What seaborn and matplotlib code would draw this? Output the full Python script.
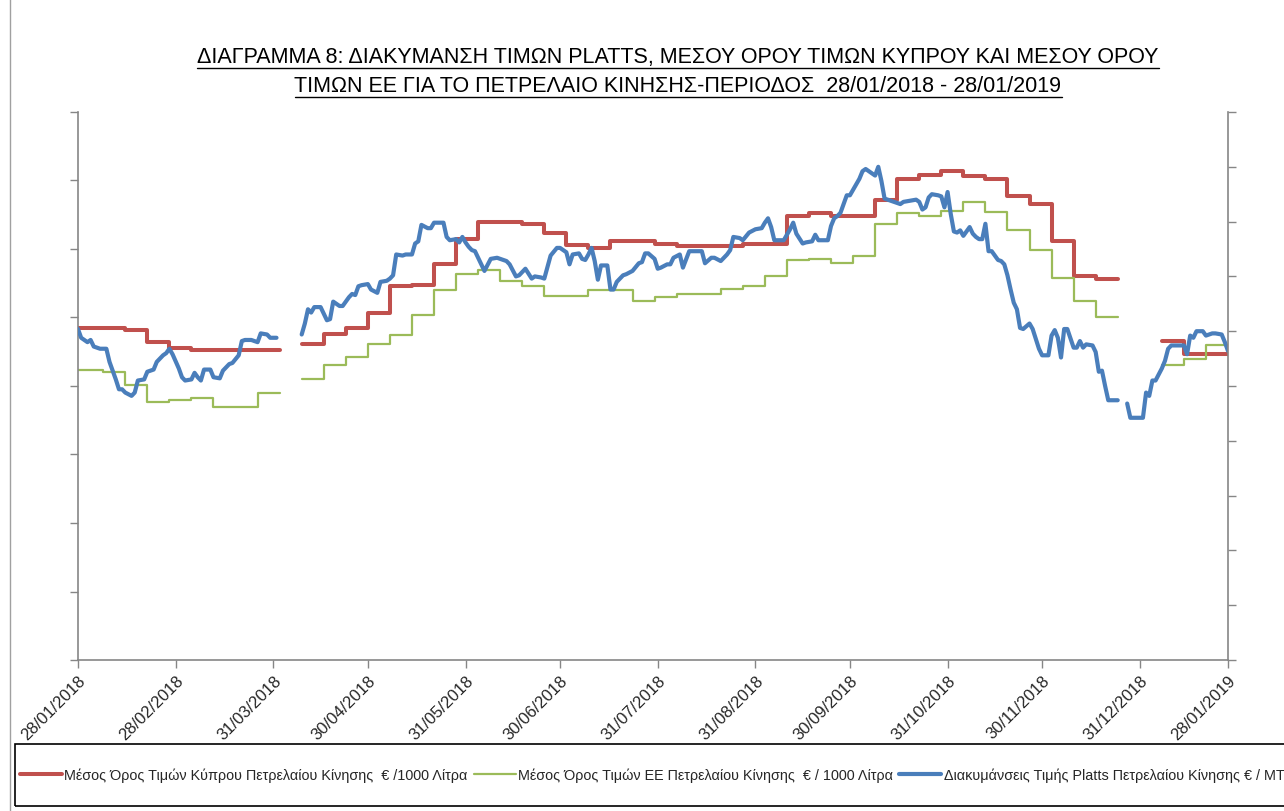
import numpy as np
import pandas as pd
import matplotlib
matplotlib.use("Agg")
import matplotlib.pyplot as plt
import seaborn as sns
from matplotlib.lines import Line2D
from matplotlib.patches import Rectangle

# ---------------- data ----------------
START = "2018-01-28"
END = "2019-01-28"
WEEK_START = "2018-01-29"
nan = np.nan

# weekly averages, €/1000 litres (left axis)
cy_avg = [1242, 1242, 1241, 1232, 1228, 1226, 1226, 1226, 1226, nan,
          1231, 1238, 1242, 1253, 1273, 1274, 1289, 1307, 1320, 1320,
          1318, 1312, 1303, 1301, 1306, 1306, 1304, 1302, 1302, 1302,
          1304, 1304, 1324, 1326, 1324, 1324, 1336, 1351, 1354, 1357,
          1353, 1351, 1339, 1333, 1306, 1280, 1278, nan, nan, 1233,
          1223, 1223, 1223]
eu_avg = [1212, 1210, 1201, 1188, 1190, 1191, 1185, 1185, 1195, nan,
          1205, 1215, 1221, 1231, 1237, 1252, 1270, 1282, 1285, 1277,
          1273, 1266, 1266, 1270, 1270, 1262, 1265, 1267, 1267, 1271,
          1273, 1280, 1292, 1293, 1290, 1295, 1318, 1326, 1324, 1328,
          1334, 1327, 1314, 1299, 1279, 1262, 1250, nan, nan, 1215,
          1220, 1230, 1230]

# Platts quotation, €/MT (right axis): days since START and value
platts_days = [0, 1, 3, 4, 5, 7, 9, 10, 12, 13, 14, 15, 17, 18, 19, 21, 22, 24, 25, 27,
               28, 29, 30, 32, 33, 34, 36, 37, 38, 39, 40, 42, 43, 45, 46, 48, 49, 51, 52, 53,
               55, 57, 58, 60, 61, 63, 67, 71, 72, 73, 74, 75, 77, 79, 80, 81, 83, 84, 86, 87,
               88, 89, 90, 92, 93, 95, 96, 98, 99, 100, 101, 103, 104, 106, 107, 108, 109, 111, 112, 113,
               116, 117, 118, 120, 121, 122, 123, 124, 125, 126, 128, 129, 131, 133, 134, 136, 137, 139, 140, 142,
               144, 145, 147, 148, 150, 152, 153, 155, 156, 157, 159, 160, 161, 162, 163, 164, 165, 166, 168, 169,
               170, 171, 173, 174, 176, 178, 179, 180, 181, 183, 184, 185, 187, 188, 189, 191, 192, 194, 196, 198,
               199, 201, 202, 204, 206, 207, 208, 210, 211, 213, 215, 217, 218, 219, 220, 221, 223, 224, 226, 227,
               228, 230, 231, 233, 234, 235, 237, 238, 239, 240, 241, 242, 244, 245, 246, 248, 249, 250, 251, 253,
               254, 255, 256, 258, 259, 261, 262, 264, 266, 267, 268, 269, 270, 271, 273, 274, 275, 276, 277, 278,
               279, 280, 281, 283, 284, 285, 286, 287, 288, 289, 290, 292, 293, 294, 295, 296, 297, 298, 299, 300,
               302, 303, 304, 305, 306, 308, 309, 310, 311, 312, 313, 314, 316, 317, 318, 319, 320, 322, 323, 324,
               325, 326, 327, 330, 331, 333, 334, 338, 339, 340, 341, 342, 344, 345, 346, 347, 349, 351, 352, 353,
               354, 355, 357, 358, 360, 361, 363, 364, 365]
platts_vals = [502, 494, 490, 492, 486, 484, 484, 472, 456, 447, 447, 444, 441, 444, 455, 456, 463, 465, 472, 478,
               480, 484, 479, 466, 458, 455, 456, 462, 458, 455, 465, 465, 458, 457, 464, 470, 471, 478, 491, 492,
               492, 490, 498, 497, 494, 494, nan, 497, 507, 520, 517, 522, 522, 510, 511, 527, 523, 523, 531, 534,
               533, 541, 542, 543, 538, 535, 545, 546, 548, 551, 570, 569, 570, 570, 580, 582, 597, 594, 594, 599,
               599, 586, 583, 584, 581, 586, 581, 577, 574, 573, 561, 555, 566, 567, 566, 564, 561, 550, 551, 557,
               548, 550, 549, 548, 569, 576, 576, 572, 561, 570, 571, 566, 565, 570, 576, 564, 547, 560, 560, 538,
               538, 545, 551, 552, 555, 562, 563, 571, 571, 566, 557, 558, 561, 561, 567, 570, 558, 573, 573, 573,
               562, 567, 567, 564, 570, 574, 586, 585, 583, 590, 593, 594, 599, 603, 595, 583, 583, 583, 593, 599,
               589, 580, 581, 582, 588, 583, 583, 583, 596, 603, 605, 608, 624, 624, 629, 639, 646, 648, 646, 642,
               650, 637, 621, 619, 618, 616, 618, 619, 620, 618, 611, 613, 622, 625, 624, 623, 613, 627, 607, 591,
               590, 592, 587, 595, 589, 586, 584, 584, 598, 573, 573, 565, 564, 561, 551, 538, 526, 520, 503, 502,
               507, 502, 493, 484, 478, 478, 496, 501, 494, 476, 502, 502, 485, 485, 491, 485, 488, 487, 481, 463,
               464, 450, 437, 437, nan, 434, 421, 421, 444, 441, 455, 455, 466, 473, 484, 487, 487, 487, 479, 496,
               494, 500, 500, 496, 498, 498, 497, 490, 482]

tick_dates = ["2018-01-28", "2018-02-28", "2018-03-31", "2018-04-30", "2018-05-31",
              "2018-06-30", "2018-07-31", "2018-08-31", "2018-09-30", "2018-10-31",
              "2018-11-30", "2018-12-31", "2019-01-28"]

label_cy = "Μέσος Όρος Τιμών Κύπρου Πετρελαίου Κίνησης  € /1000 Λίτρα"
label_eu = "Μέσος Όρος Τιμών ΕΕ Πετρελαίου Κίνησης  € / 1000 Λίτρα"
label_pl = "Διακυμάνσεις Τιμής Platts Πετρελαίου Κίνησης € / MT"
title_1 = "ΔΙΑΓΡΑΜΜΑ 8: ΔΙΑΚΥΜΑΝΣΗ ΤΙΜΩΝ PLATTS, ΜΕΣΟΥ ΟΡΟΥ ΤΙΜΩΝ ΚΥΠΡΟΥ ΚΑΙ ΜΕΣΟΥ ΟΡΟΥ"
title_2 = "ΤΙΜΩΝ ΕΕ ΓΙΑ ΤΟ ΠΕΤΡΕΛΑΙΟ ΚΙΝΗΣΗΣ-ΠΕΡΙΟΔΟΣ  28/01/2018 - 28/01/2019"

# ---------------- frames ----------------
week_dates = pd.date_range(WEEK_START, periods=len(cy_avg), freq="7D")
week_dates = week_dates.insert(0, pd.Timestamp(START)).delete(1)


def step_frame(dates, values):
    rows, seg = [], 0
    for i, (d, v) in enumerate(zip(dates, values)):
        if np.isnan(v):
            seg += 1
            continue
        rows.append((d, v, seg))
        if i + 1 < len(values) and np.isnan(values[i + 1]):
            rows.append((dates[i + 1], v, seg))
    return pd.DataFrame(rows, columns=["date", "value", "seg"])


def line_frame(dates, values):
    rows, seg = [], 0
    for d, v in zip(dates, values):
        if np.isnan(v):
            seg += 1
            continue
        rows.append((d, v, seg))
    return pd.DataFrame(rows, columns=["date", "value", "seg"])


cy_df = step_frame(week_dates, cy_avg)
eu_df = step_frame(week_dates, eu_avg)
pl_dates = pd.Timestamp(START) + pd.to_timedelta(platts_days, unit="D")
pl_df = line_frame(pl_dates, platts_vals)

# ---------------- style ----------------
sns.set_style("white")
plt.rcParams["font.family"] = ["Liberation Sans", "DejaVu Sans"]

RED = "#C0504D"
GREEN = "#9BBB59"
BLUE = "#4A7EBB"
GRAY = "#868686"

fig = plt.figure(figsize=(12.84, 8.12), dpi=100)
ax = fig.add_axes([78 / 1284, 1 - 661 / 812, 1150 / 1284, 548 / 812])
ax2 = ax.twinx()

sns.lineplot(data=cy_df, x="date", y="value", units="seg", estimator=None,
             color=RED, lw=2.9, drawstyle="steps-post", ax=ax, legend=False)
sns.lineplot(data=eu_df, x="date", y="value", units="seg", estimator=None,
             color=GREEN, lw=1.6, drawstyle="steps-post", ax=ax, legend=False)
sns.lineplot(data=pl_df, x="date", y="value", units="seg", estimator=None,
             color=BLUE, lw=3.0, ax=ax2, legend=False)

ax.set_xlim(pd.Timestamp(START), pd.Timestamp(END))
ax.set_ylim(1000, 1400)
ax.set_yticks(np.arange(1000, 1401, 50))
ax2.set_ylim(200, 700)
ax2.set_yticks(np.arange(200, 701, 50))
for a in (ax, ax2):
    a.set_ylabel("")
    a.set_xlabel("")
    a.tick_params(axis="y", labelleft=False, labelright=False, length=6,
                  color=GRAY, width=1)
    for s in a.spines.values():
        s.set_visible(False)

ax.spines["left"].set_visible(True)
ax.spines["bottom"].set_visible(True)
ax2.spines["right"].set_visible(True)
for s in (ax.spines["left"], ax.spines["bottom"], ax2.spines["right"]):
    s.set_color(GRAY)
    s.set_linewidth(1.2)
ax.tick_params(axis="y", left=True, right=False, direction="out")
ax2.tick_params(axis="y", right=True, left=False, direction="out")

ticks = pd.to_datetime(tick_dates)
ax.set_xticks(ticks)
ax.set_xticklabels([t.strftime("%d/%m/%Y") for t in ticks], rotation=45,
                   ha="right", rotation_mode="anchor", fontsize=12)
ax.tick_params(axis="x", bottom=True, length=6, color=GRAY, width=1,
               direction="out", pad=3)

# ---------------- title ----------------
t1 = fig.text(678 / 1284, 1 - 57 / 812, title_1, ha="center", va="center",
              fontsize=15.5, color="black")
t2 = fig.text(678 / 1284, 1 - 86 / 812, title_2, ha="center", va="center",
              fontsize=15.5, color="black")
fig.canvas.draw()
rend = fig.canvas.get_renderer()
for t in (t1, t2):
    bb = t.get_window_extent(rend)
    y = bb.y0 - 1
    fig.add_artist(Line2D([bb.x0, bb.x1], [y, y], transform=None,
                          color="black", lw=1.0))

# ---------------- legend ----------------
fig.add_artist(Rectangle((15 / 1284, 1 - 807 / 812), 1.2, 62 / 812,
                         transform=fig.transFigure, fill=False,
                         edgecolor="black", lw=1.2, clip_on=False))
fig.add_artist(Line2D([10 / 1284, 10 / 1284], [0, 1], transform=fig.transFigure,
                      color="#A0A0A0", lw=1.0))
handles = [Line2D([], [], color=RED, lw=2.9),
           Line2D([], [], color=GREEN, lw=1.6),
           Line2D([], [], color=BLUE, lw=3.0)]
fig.legend(handles, [label_cy, label_eu, label_pl], ncol=3,
           loc="center left", bbox_to_anchor=(20 / 1284, 1 - 776 / 812),
           frameon=False, fontsize=10.4, handlelength=2.9, handletextpad=0.15,
           columnspacing=0.45, borderaxespad=0, borderpad=0)

fig.savefig("out.png", dpi=100)
